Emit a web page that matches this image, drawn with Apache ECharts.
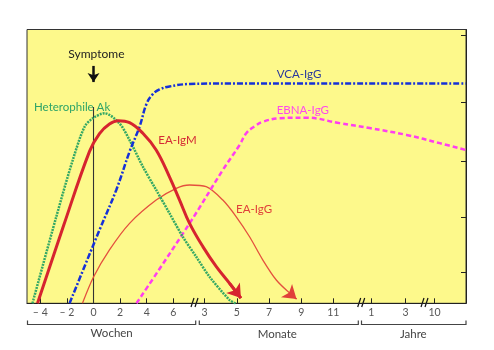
<!DOCTYPE html>
<html>
<head>
<meta charset="utf-8">
<script src="https://cdn.jsdelivr.net/npm/echarts@6/dist/echarts.min.js"></script>
<style>
  html, body { margin: 0; padding: 0; background: #fff; }
  #chart { width: 494px; height: 350px; }
</style>
</head>
<body>
<div id="chart"></div>
<script>
// x axis is a broken axis: weeks, then months, then years (positions in week units)
const tickPos = [-4, -2, 0, 2, 4, 6, 8.35, 10.77, 13.19, 15.61, 18.03, 20.88, 23.46, 25.64];
const tickLabels = ["– 4", "– 2", "0", "2", "4", "6", "3", "5", "7", "9", "11", "1", "3", "10"];
const rightTicks = [11.2, 31.3, 51.7, 73.6, 98];

// [axis position, titre]
const heterophileAk = [[-4.59, 0], [-2.8, 31.6], [-1.56, 52.3], [-0.68, 64.4], [-0.05, 67.6], [0.83, 69.4],
  [1.95, 65.7], [2.71, 59.6], [3.71, 49.9], [4.71, 41.4], [5.71, 32.9], [6.71, 24.3], [7.72, 17.0],
  [8.72, 9.7], [10.23, 1.2], [10.68, 0]];
const eaIgM = [[-4.21, 0], [-2.26, 28.2], [-0.3, 55.5], [0.45, 62.0], [1.2, 65.5], [1.85, 66.7], [2.71, 66.0],
  [3.71, 62.1], [4.71, 56.0], [5.71, 46.2], [6.47, 37.7], [7.22, 29.2], [8.22, 20.7], [9.23, 13.4],
  [10.23, 7.3], [11.08, 1.9]];
const eaIgG = [[-0.83, 0], [0, 9.6], [1.2, 19.5], [2.71, 29.2], [4.71, 37.7], [6.22, 42.0], [7.22, 43.2],
  [8.47, 42.6], [9.72, 37.7], [10.73, 31.6], [11.73, 24.3], [12.73, 15.8], [13.74, 8.5], [14.74, 3.7], [15.26, 1.6]];
const vcaIgG = [[-1.8, 0], [0.45, 26.8], [1.71, 41.4], [2.71, 55.4], [3.46, 64.5], [3.98, 72.8], [4.44, 76.3],
  [4.96, 78.1], [5.71, 79.2], [7.22, 80.1], [10.23, 80.3], [27.97, 80.3]];
const ebnaIgG = [[3.23, 0], [7.22, 29.2], [9.72, 48.7], [10.98, 57.8], [11.48, 62.1], [12.1, 64.6], [12.73, 66.3],
  [13.98, 67.6], [15.99, 67.8], [18.5, 65.8], [20.75, 64.0], [23.53, 61.5], [26.02, 58.5], [27.97, 56.0]];
const symptomLine = [[0, 0], [0, 71.7]];
const symptomArrow = [[0, 86.7], [0, 80.8]];

const FONT = 'Lato, "Liberation Sans", sans-serif';

function labelFor(v) {
  const i = tickPos.findIndex(p => Math.abs(p - v) < 1e-6);
  return i >= 0 ? tickLabels[i] : "";
}

function arrowEnd(data, color, width) {
  const n = data.length;
  return {
    silent: true,
    symbol: ["none", "arrow"],
    symbolSize: 13,
    label: { show: false },
    lineStyle: { color: color, width: width, type: "solid" },
    data: [[{ coord: data[n - 2] }, { coord: data[n - 1] }]]
  };
}

function curve(name, data, color, width, type, extra) {
  return Object.assign({
    name: name,
    type: "line",
    data: data,
    smooth: 0.3,
    showSymbol: false,
    silent: true,
    lineStyle: { color: color, width: width, type: type },
    itemStyle: { color: color }
  }, extra || {});
}

function label(text, x, y, color) {
  return { type: "text", x: x, y: y, style: { text: text, fill: color, font: "11.5px " + FONT, textVerticalAlign: "middle" } };
}

function bracket(x1, x2) {
  return { type: "polyline", shape: { points: [[x1, 320.5], [x1, 324.5], [x2, 324.5], [x2, 320.5]] }, style: { stroke: "#444", lineWidth: 1.2, fill: null } };
}

const chart = echarts.init(document.getElementById("chart"));

const option = {
  animation: false,
  grid: { left: 27, right: 28, top: 29.5, bottom: 46.7, show: true, backgroundColor: "#fdf98b", borderColor: "#333", borderWidth: 1 },
  xAxis: {
    type: "value",
    min: -5,
    max: 28,
    splitLine: { show: false },
    axisLine: { show: true, onZero: false, lineStyle: { color: "#222", width: 1 } },
    axisTick: { show: true, inside: true, length: 5, customValues: tickPos, lineStyle: { color: "#222" } },
    axisLabel: { customValues: tickPos, formatter: labelFor, color: "#555", fontSize: 10.5, margin: 4, fontFamily: FONT }
  },
  yAxis: {
    type: "value",
    position: "right",
    min: 0,
    max: 100,
    splitLine: { show: false },
    axisLine: { show: true, onZero: false, lineStyle: { color: "#222", width: 1 } },
    axisTick: { show: true, inside: true, length: 5, customValues: rightTicks, lineStyle: { color: "#222" } },
    axisLabel: { show: false }
  },
  series: [
    curve("Symptome", symptomLine, "#333", 1.1, "solid", {
      smooth: false,
      markLine: {
        silent: true,
        symbol: ["none", "arrow"],
        symbolSize: 9,
        label: { show: false },
        lineStyle: { color: "#111", width: 2.5, type: "solid" },
        data: [[{ coord: symptomArrow[0] }, { coord: symptomArrow[1] }]]
      }
    }),
    curve("EA-IgG", eaIgG, "#e4503e", 1.3, "solid", { markLine: arrowEnd(eaIgG, "#e0403a", 1.3) }),
    curve("EBNA-IgG", ebnaIgG, "#ff3ef0", 2.5, [5, 3], { smooth: 0.4 }),
    curve("Heterophile Ak", heterophileAk, "#34a865", 2.5, [2, 1]),
    curve("VCA-IgG", vcaIgG, "#1530d8", 2.5, [6, 2, 2, 2], { smooth: 0.4 }),
    curve("EA-IgM", eaIgM, "#d6242f", 3, "solid", { smooth: 0.4, markLine: arrowEnd(eaIgM, "#d6242f", 3) })
  ],
  graphic: [
    { type: "text", x: 68.3, y: 54.3, style: { text: "Symptome", fill: "#222", font: "12px " + FONT, textVerticalAlign: "middle" } },
    label("Heterophile Ak", 34, 107.3, "#2ea468"),
    label("EA-IgM", 158.3, 140.7, "#d42a35"),
    label("VCA-IgG", 276.7, 74, "#28389e"),
    label("EBNA-IgG", 276.7, 110, "#ff48ec"),
    label("EA-IgG", 236, 209.3, "#e0403a"),
    { type: "text", x: 111.7, y: 333, style: { text: "Wochen", fill: "#444", font: "11.5px " + FONT, textAlign: "center", textVerticalAlign: "middle" } },
    { type: "text", x: 277.3, y: 334, style: { text: "Monate", fill: "#444", font: "11.5px " + FONT, textAlign: "center", textVerticalAlign: "middle" } },
    { type: "text", x: 413.3, y: 334, style: { text: "Jahre", fill: "#444", font: "11.5px " + FONT, textAlign: "center", textVerticalAlign: "middle" } },
    bracket(27.5, 195.7),
    bracket(199.3, 358.3),
    bracket(361.5, 466)
  ].concat([195, 361.7, 425].flatMap(x => [
    { type: "line", shape: { x1: x - 4, y1: 307, x2: x - 1, y2: 298 }, style: { stroke: "#111", lineWidth: 1.2 } },
    { type: "line", shape: { x1: x, y1: 307, x2: x + 3, y2: 298 }, style: { stroke: "#111", lineWidth: 1.2 } }
  ]))
};

chart.setOption(option);
</script>
</body>
</html>
